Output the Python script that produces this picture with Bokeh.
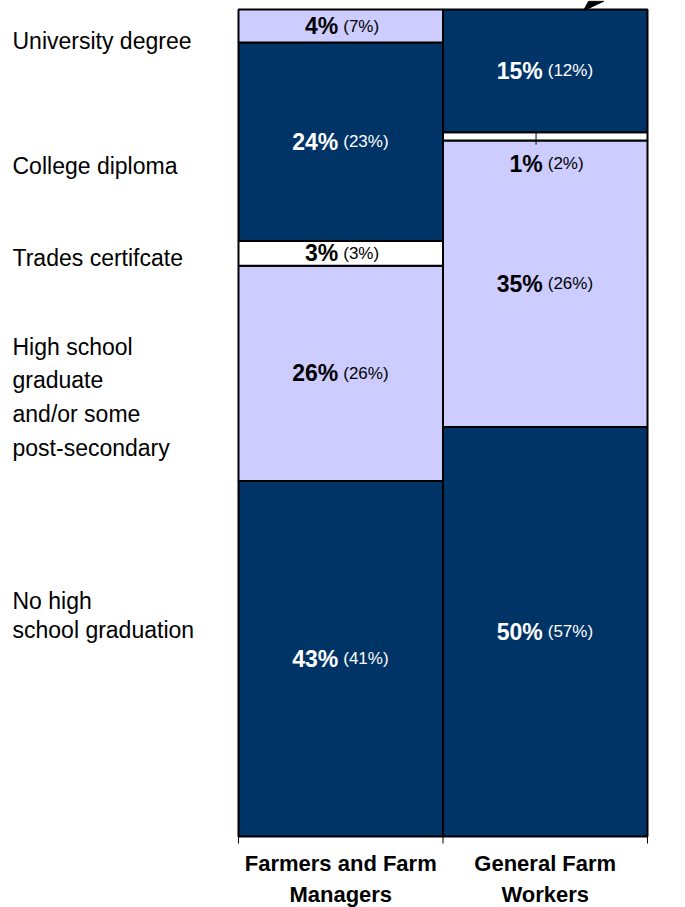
from bokeh.plotting import figure
from bokeh.models import ColumnDataSource, Range1d
from bokeh.core.properties import value
from bokeh.embed import file_html
from bokeh.resources import INLINE

# ---- data ----
groups = ["Farmers and Farm\nManagers", "General Farm\nWorkers"]
farmers_pct = [43, 26, 3, 24, 4]          # bottom -> top
farmers_prev = [41, 26, 3, 23, 7]
workers_pct = [50, 35, 1, 15]
workers_prev = [57, 26, 2, 12]
levels = ["University degree", "College diploma", "Trades certifcate",
          "High school\ngraduate\nand/or some\npost-secondary",
          "No high\nschool graduation"]

# ---- styles ----
DARK = "#003366"
LIGHT = "#CCCCFF"
WHITE = "#FFFFFF"
farmers_colors = [DARK, LIGHT, WHITE, DARK, LIGHT]
workers_colors = [DARK, LIGHT, WHITE, DARK]
FONT = "Liberation Sans"

W, H = 685, 907
p = figure(width=W, height=H, output_backend="svg", toolbar_location=None,
           x_range=Range1d(-1.16381, 2.18582), y_range=Range1d(-8.585, 101.088),
           min_border=0)
p.axis.visible = False
p.grid.visible = False
p.outline_line_color = None

left, right, bottom, top, colors = [], [], [], [], []
lx, ly, bold_txt, norm_txt, tcol, yoff = [], [], [], [], [], []
leaders = []
for gi, (pcts, prevs, cols) in enumerate([(farmers_pct, farmers_prev, farmers_colors),
                                          (workers_pct, workers_prev, workers_colors)]):
    total = float(sum(pcts))
    cum = 0.0
    for v, pv, c in zip(pcts, prevs, cols):
        b = cum * 100 / total
        t = (cum + v) * 100 / total
        cum += v
        left.append(gi); right.append(gi + 1); bottom.append(b); top.append(t); colors.append(c)
        lx.append(gi + 0.5)
        bold_txt.append(f"{v}%")
        norm_txt.append(f"({pv}%)")
        tcol.append("white" if c == DARK else "black")
        if t - b < 2:
            ly.append(b)
            yoff.append(23)
            leaders.append((gi + 0.455, t, b - 0.5))
        else:
            ly.append((b + t) / 2)
            yoff.append(0)

p.quad(left=left, right=right, bottom=bottom, top=top, fill_color=colors,
       line_color="black", line_width=2)

for (x, y0, y1) in leaders:
    p.segment(x0=[x], y0=[y0], x1=[x], y1=[y1], line_color="black", line_width=1)

# partial arrowhead at top edge (decoration from the source slide)
p.patch(x=[1.687, 1.712, 1.786], y=[99.85, 101.0, 101.0], fill_color="black",
        line_color="black", line_width=1)

src = ColumnDataSource(dict(x=lx, y=ly, b=bold_txt, n=norm_txt, c=tcol, yo=yoff))
p.text(x="x", y="y", text="b", source=src, text_color="c", y_offset="yo",
       x_offset=-2.5, text_align="right", text_baseline="middle",
       text_font=value(FONT), text_font_style="bold", text_font_size="23px")
p.text(x="x", y="y", text="n", source=src, text_color="c", y_offset="yo",
       x_offset=2.5, text_align="left", text_baseline="middle",
       text_font=value(FONT), text_font_size="17px")

# x-axis ticks at category boundaries
tx = list(range(len(groups) + 1))
p.segment(x0=tx, y0=[0] * len(tx), x1=tx, y1=[-0.85] * len(tx), line_color="black", line_width=1)

# category labels
p.text(x=[i + 0.5 for i in range(len(groups))], y=[-5.15] * len(groups), text=groups,
       text_align="center", text_baseline="middle", text_font=value(FONT),
       text_font_style="bold", text_font_size="22px", text_line_height=1.27,
       text_color="black")

# left labels
XL = -1.1051
lab_y = [96.25, 81.1, 69.9]
p.text(x=[XL] * 3, y=lab_y, text=levels[:3], text_align="left",
       text_baseline="middle", text_font=value(FONT), text_font_size="23px",
       text_color="black")
p.text(x=[XL], y=[53.1], text=[levels[3]], text_align="left",
       text_baseline="middle", text_font=value(FONT), text_font_size="23px",
       text_line_height=1.3, text_color="black")
p.text(x=[XL], y=[26.75], text=[levels[4]], text_align="left",
       text_baseline="middle", text_font=value(FONT), text_font_size="23px",
       text_line_height=1.12, text_color="black")

open("out.html", "w").write(file_html(p, INLINE))
